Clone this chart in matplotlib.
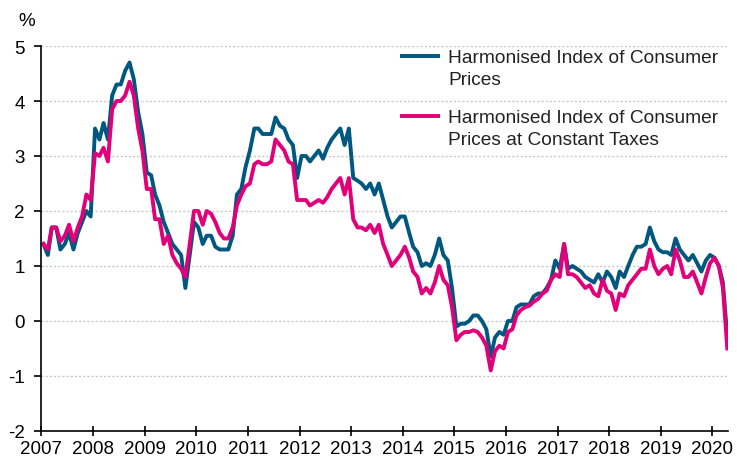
from pathlib import Path
import pandas as pd
import matplotlib.pyplot as plt
import matplotlib.dates as mdates


OUTPUT_FILE = Path("out.png")

BLUE = "#00577f"
PINK = "#e2007a"
GRID = "#c8c8c8"

# monthly annual change (%), Jan 2007 - Apr 2020
HICP_2007 = [1.4, 1.2, 1.7, 1.7, 1.3, 1.4, 1.6, 1.3, 1.6, 1.8, 2.0, 1.9]
HICP_2008 = [3.5, 3.3, 3.6, 3.3, 4.1, 4.3, 4.3, 4.55, 4.7, 4.4, 3.8, 3.4]
HICP_2009 = [2.7, 2.65, 2.3, 2.1, 1.8, 1.6, 1.4, 1.3, 1.2, 0.6, 1.2, 1.8]
HICP_2010 = [1.7, 1.4, 1.55, 1.55, 1.35, 1.3, 1.3, 1.3, 1.55, 2.3, 2.4, 2.8]
HICP_2011 = [3.1, 3.5, 3.5, 3.4, 3.4, 3.4, 3.7, 3.55, 3.5, 3.3, 3.2, 2.6]
HICP_2012 = [3.0, 3.0, 2.9, 3.0, 3.1, 2.95, 3.15, 3.3, 3.4, 3.5, 3.2, 3.5]
HICP_2013 = [2.6, 2.55, 2.5, 2.4, 2.5, 2.3, 2.5, 2.2, 1.9, 1.7, 1.8, 1.9]
HICP_2014 = [1.9, 1.6, 1.35, 1.25, 1.0, 1.05, 1.0, 1.2, 1.5, 1.2, 1.1, 0.6]
HICP_2015 = [-0.1, -0.05, -0.05, 0.0, 0.1, 0.1, 0.0, -0.15, -0.65, -0.3, -0.2, -0.25]
HICP_2016 = [0.0, 0.0, 0.25, 0.3, 0.3, 0.3, 0.45, 0.5, 0.5, 0.6, 0.75, 1.1]
HICP_2017 = [0.95, 1.4, 0.95, 1.0, 0.95, 0.9, 0.8, 0.75, 0.7, 0.85, 0.7, 0.9]
HICP_2018 = [0.8, 0.6, 0.9, 0.8, 1.0, 1.2, 1.35, 1.35, 1.4, 1.7, 1.45, 1.3]
HICP_2019 = [1.25, 1.25, 1.2, 1.5, 1.3, 1.2, 1.1, 1.2, 1.05, 0.9, 1.1, 1.2]
HICP_2020 = [1.15, 1.0, 0.7, -0.3]

HICP_CT_2007 = [1.4, 1.3, 1.7, 1.7, 1.45, 1.55, 1.75, 1.45, 1.7, 1.9, 2.3, 2.2]
HICP_CT_2008 = [3.05, 3.0, 3.15, 2.9, 3.85, 4.0, 4.0, 4.1, 4.35, 4.1, 3.5, 3.1]
HICP_CT_2009 = [2.4, 2.4, 1.85, 1.85, 1.4, 1.55, 1.2, 1.05, 0.95, 0.8, 1.4, 2.0]
HICP_CT_2010 = [2.0, 1.75, 2.0, 1.95, 1.8, 1.6, 1.5, 1.5, 1.7, 2.1, 2.3, 2.45]
HICP_CT_2011 = [2.5, 2.85, 2.9, 2.85, 2.85, 2.9, 3.3, 3.2, 3.1, 2.9, 2.85, 2.2]
HICP_CT_2012 = [2.2, 2.2, 2.1, 2.15, 2.2, 2.15, 2.25, 2.4, 2.5, 2.6, 2.3, 2.6]
HICP_CT_2013 = [1.85, 1.7, 1.7, 1.65, 1.75, 1.6, 1.75, 1.4, 1.2, 1.0, 1.1, 1.2]
HICP_CT_2014 = [1.35, 1.15, 0.9, 0.8, 0.5, 0.6, 0.5, 0.7, 1.0, 0.75, 0.65, 0.25]
HICP_CT_2015 = [-0.35, -0.25, -0.2, -0.2, -0.17, -0.2, -0.3, -0.45, -0.9, -0.55, -0.45, -0.5]
HICP_CT_2016 = [-0.2, -0.15, 0.1, 0.2, 0.25, 0.28, 0.35, 0.4, 0.5, 0.55, 0.75, 0.85]
HICP_CT_2017 = [0.8, 1.4, 0.85, 0.85, 0.8, 0.7, 0.6, 0.65, 0.5, 0.45, 0.75, 0.55]
HICP_CT_2018 = [0.5, 0.2, 0.5, 0.45, 0.65, 0.75, 0.85, 0.95, 0.95, 1.3, 1.0, 0.85]
HICP_CT_2019 = [0.95, 1.0, 0.85, 1.3, 1.1, 0.8, 0.8, 0.9, 0.7, 0.5, 0.8, 1.05]
HICP_CT_2020 = [1.15, 1.0, 0.6, -0.5]

LABEL_HICP = "Harmonised Index of Consumer\nPrices"
LABEL_HICP_CT = "Harmonised Index of Consumer\nPrices at Constant Taxes"

Y_TICKS = [-2, -1, 0, 1, 2, 3, 4, 5]
YEARS = list(range(2007, 2021))


def build_series():
    hicp = (HICP_2007 + HICP_2008 + HICP_2009 + HICP_2010 + HICP_2011
            + HICP_2012 + HICP_2013 + HICP_2014 + HICP_2015 + HICP_2016
            + HICP_2017 + HICP_2018 + HICP_2019 + HICP_2020)
    hicp_ct = (HICP_CT_2007 + HICP_CT_2008 + HICP_CT_2009 + HICP_CT_2010
               + HICP_CT_2011 + HICP_CT_2012 + HICP_CT_2013 + HICP_CT_2014
               + HICP_CT_2015 + HICP_CT_2016 + HICP_CT_2017 + HICP_CT_2018
               + HICP_CT_2019 + HICP_CT_2020)

    months = pd.date_range("2007-01-01", periods=len(hicp), freq="MS")
    months = months + pd.Timedelta(days=14)

    return pd.DataFrame({"month": months, "hicp": hicp, "hicp_ct": hicp_ct})


def add_legend(ax):
    # legend keys sit on the first text line, as in the original
    entries = [(LABEL_HICP, BLUE, 0.973), (LABEL_HICP_CT, PINK, 0.817)]
    for label, color, y in entries:
        ax.plot([0.522, 0.580], [y, y], transform=ax.transAxes,
                color=color, linewidth=2.8, solid_capstyle="butt", clip_on=False)
        ax.text(0.592, y + 0.019, label, transform=ax.transAxes,
                ha="left", va="top", fontsize=13.8, linespacing=1.38,
                color="#222222")


def plot_chart():
    df = build_series()

    plt.rcParams["font.family"] = ["Liberation Sans", "DejaVu Sans"]

    fig = plt.figure(figsize=(7.37, 4.64), dpi=100)
    ax = fig.add_axes([0.0563, 0.069, 0.9315, 0.8297])

    ax.plot(df["month"], df["hicp"], color=BLUE, linewidth=2.8,
            solid_joinstyle="round")
    ax.plot(df["month"], df["hicp_ct"], color=PINK, linewidth=2.8,
            solid_joinstyle="round")

    ax.set_ylim(-2, 5)
    ax.set_xlim(pd.Timestamp("2007-01-01"), pd.Timestamp("2020-04-20"))

    ax.set_yticks(Y_TICKS)
    ax.set_yticklabels([str(v) for v in Y_TICKS])
    ax.set_xticks([pd.Timestamp(f"{y}-01-01") for y in YEARS])
    ax.xaxis.set_major_formatter(mdates.DateFormatter("%Y"))

    for v in Y_TICKS[1:]:
        ax.axhline(v, color=GRID, linewidth=1.0, linestyle=(0, (1.5, 1.5)),
                   zorder=0)

    for side in ["top", "right"]:
        ax.spines[side].set_visible(False)
    for side in ["left", "bottom"]:
        ax.spines[side].set_color("black")
        ax.spines[side].set_linewidth(1.2)

    ax.tick_params(axis="y", direction="out", length=5, width=1.2,
                   labelsize=13.5, pad=7, colors="black")
    ax.tick_params(axis="x", direction="inout", length=7, width=1.2,
                   labelsize=13.5, pad=3, colors="black")

    ax.text(-0.021, 1.045, "%", transform=ax.transAxes, ha="center",
            va="bottom", fontsize=13.5)

    add_legend(ax)

    fig.savefig(OUTPUT_FILE, dpi=100)
    plt.close(fig)
    print(f"Plot saved to: {OUTPUT_FILE}")


def main():
    plot_chart()


if __name__ == "__main__":
    main()
